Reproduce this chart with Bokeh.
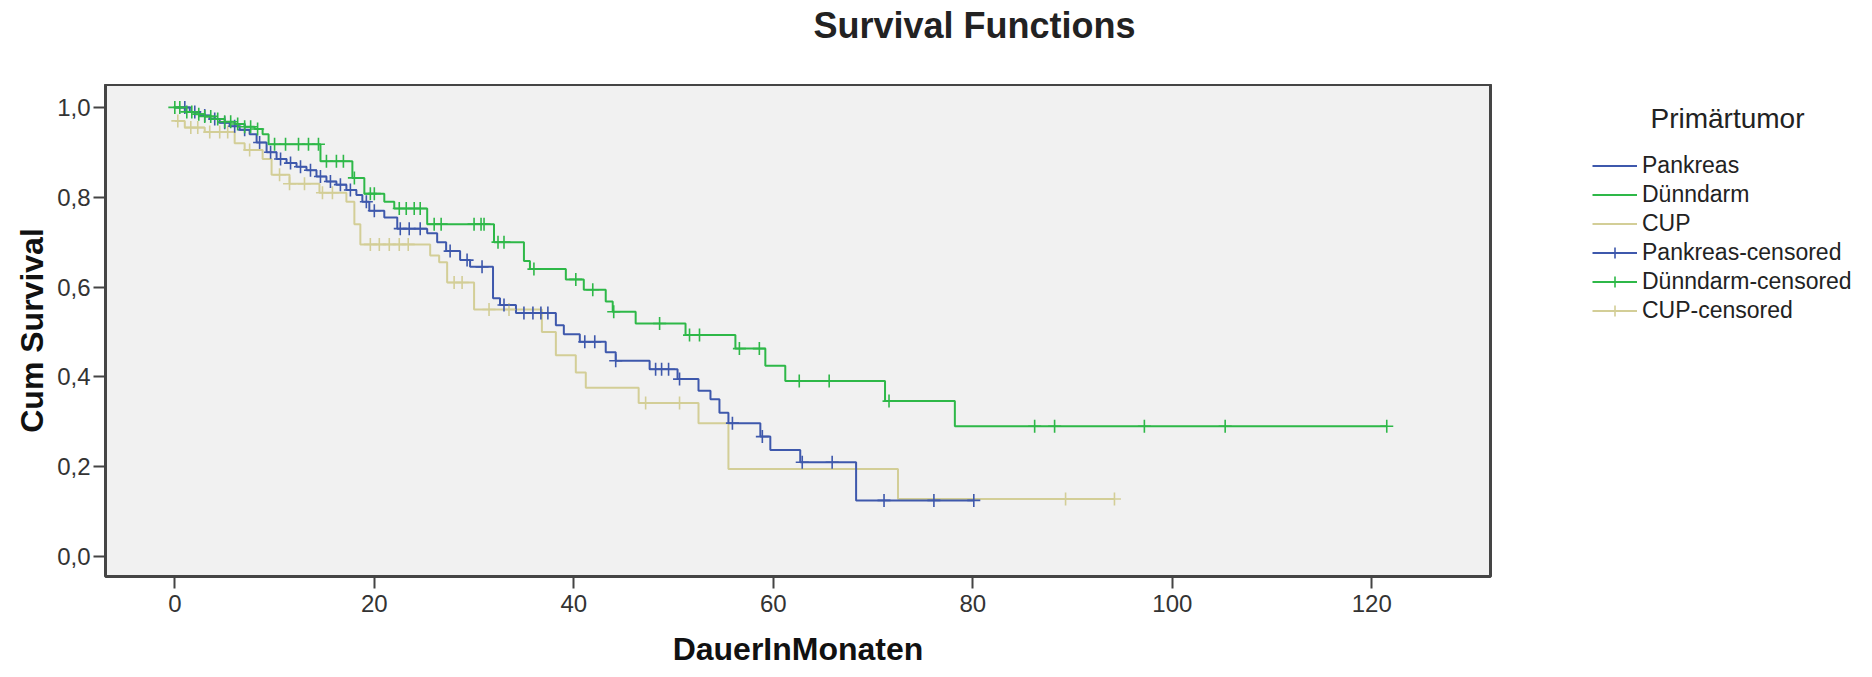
import numpy as np
from bokeh.plotting import figure
from bokeh.layouts import row, column
from bokeh.models import Range1d, FixedTicker, Legend, LegendItem, Label
from bokeh.embed import file_html
from bokeh.resources import INLINE

# ---------------- data ----------------
groups = ["Pankreas", "Dünndarm", "CUP"]
colors = ["#3E58AC", "#2EB848", "#D3CE97"]

# Kaplan-Meier step points (time in months, cumulative survival after the step)
pank_t = [0, 1.5, 2.5, 3.5, 4.5, 5.5, 6.5, 7.5, 8.2, 9.2, 10.2, 11.2, 12.2, 13.2, 14.2,
          15.2, 16.2, 17.2, 18.2, 18.8, 19.5, 21, 22.3, 25.3, 26.3, 27.2, 28.6, 29.6,
          31.9, 32.6, 34.2, 38.2, 39, 40.6, 43.2, 44.2, 47.6, 50.4, 52.5, 53.7, 54.6,
          55.5, 58.7, 59.7, 62.7, 68.3, 80.1]
pank_s = [1.0, 0.99, 0.982, 0.974, 0.966, 0.958, 0.95, 0.94, 0.922, 0.90, 0.885, 0.876,
          0.868, 0.86, 0.846, 0.835, 0.828, 0.816, 0.805, 0.79, 0.77, 0.755, 0.73, 0.72,
          0.70, 0.68, 0.66, 0.645, 0.575, 0.56, 0.542, 0.515, 0.495, 0.478, 0.455, 0.436,
          0.417, 0.395, 0.369, 0.35, 0.32, 0.297, 0.267, 0.237, 0.21, 0.125, 0.125]
pank_c = [1, 2, 3, 4, 5, 6, 7, 8.5, 9.6, 10.6, 11.6, 12.6, 13.6, 14.6, 15.6, 16.6, 17.6,
          19.2, 20, 22.6, 23.5, 24.6, 27.6, 29.3, 30.8, 33, 35, 35.9, 36.7, 37.4, 41.1,
          42.1, 44.2, 48.2, 48.8, 49.5, 50.6, 55.9, 58.9, 62.9, 65.9, 71.1, 76.1, 80.1]

duen_t = [0, 1, 2, 3, 4, 5, 6, 7, 8, 8.8, 9.4, 14.6, 17.8, 19, 21, 22, 25.3, 32, 35,
          35.6, 39.2, 41.0, 43.2, 43.9, 46.2, 51.2, 56.2, 59.2, 61.2, 71.2, 78.2, 121.5]
duen_s = [1.0, 0.99, 0.985, 0.98, 0.974, 0.968, 0.963, 0.957, 0.952, 0.94, 0.918, 0.88,
          0.843, 0.808, 0.79, 0.775, 0.74, 0.70, 0.658, 0.64, 0.617, 0.594, 0.568, 0.545,
          0.519, 0.493, 0.463, 0.425, 0.391, 0.346, 0.29, 0.29]
duen_c = [0, 0.5, 1.2, 1.7, 2.4, 3.0, 3.6, 4.3, 5, 5.6, 6.3, 7, 7.6, 8.3, 10, 11.1, 12.4,
          13.4, 14.4, 15.2, 16.2, 16.9, 18, 19.6, 20, 22.5, 23.2, 24, 24.6, 26, 26.7, 30,
          30.7, 31, 32.4, 33, 36, 40.2, 41.9, 44, 48.6, 51.6, 52.6, 56.6, 58.6, 62.6, 65.6,
          71.6, 86.2, 88.2, 97.2, 105.3, 121.5]

cup_t = [0, 1, 3, 6, 7, 8.8, 9.7, 11.5, 14.5, 17.2, 18, 18.6, 25.6, 26.5, 27.3, 30, 36.8,
         38.2, 40.2, 41.2, 46.5, 52.5, 55.5, 72.5, 94.2]
cup_s = [0.97, 0.955, 0.945, 0.92, 0.905, 0.885, 0.85, 0.83, 0.81, 0.79, 0.74, 0.695,
         0.67, 0.655, 0.61, 0.55, 0.50, 0.448, 0.41, 0.376, 0.342, 0.297, 0.195, 0.128,
         0.128]
cup_c = [0.3, 1.6, 2.3, 3.5, 4.5, 5.3, 7.5, 10.5, 11.5, 13, 14.8, 15.8, 19.6, 20.5, 21.5,
         22.5, 23.4, 28, 28.8, 31.5, 33.5, 47.2, 50.6, 89.3, 94.2]

x_ticks = [0, 20, 40, 60, 80, 100, 120]
y_ticks = [0.0, 0.2, 0.4, 0.6, 0.8, 1.0]
y_tick_labels = ["0,0", "0,2", "0,4", "0,6", "0,8", "1,0"]

title_text = "Survival Functions"
x_label = "DauerInMonaten"
y_label = "Cum Survival"
legend_title = "Primärtumor"

# ---------------- geometry ----------------
FONT = "Liberation Sans"
TOP_H = 84                    # height of the title strip (= frame top on the page)
H = 591                       # height of the plot row
W1, W2 = 1500, 356
BL, BR, BT, BB = 105, 10, 0, 99   # borders around the main frame

# ---------------- title strip ----------------
tfig = figure(width=W1, height=TOP_H, output_backend="svg", toolbar_location=None,
              x_range=Range1d(0, 1), y_range=Range1d(0, 1),
              x_axis_type=None, y_axis_type=None,
              min_border_left=BL, min_border_right=BR, min_border_top=0, min_border_bottom=0)
tfig.outline_line_color = None
tfig.background_fill_color = "white"
tfig.border_fill_color = "white"
tfig.grid.visible = False
tfig.add_layout(Label(x=974 - BL, y=TOP_H - 25, x_units="screen", y_units="screen",
                      text=title_text, text_font=FONT, text_font_size="36px",
                      text_font_style="bold", text_color="#222222",
                      text_align="center", text_baseline="middle"))

# ---------------- main figure ----------------
p = figure(width=W1, height=H, output_backend="svg", toolbar_location=None,
           x_range=Range1d(-6.95, 131.9), y_range=Range1d(-0.0445, 1.051),
           min_border_left=BL, min_border_right=BR,
           min_border_top=BT, min_border_bottom=BB)

p.background_fill_color = "#F1F1F1"
p.border_fill_color = "white"
p.outline_line_color = "#454545"
p.outline_line_width = 3
p.grid.visible = False

for ax in (p.xaxis, p.yaxis):
    ax.axis_line_color = None
    ax.major_tick_in = 0
    ax.major_tick_out = 12
    ax.major_tick_line_color = "#444444"
    ax.major_tick_line_width = 2
    ax.minor_tick_line_color = None
    ax.major_label_text_font = FONT
    ax.major_label_text_font_size = "24px"
    ax.major_label_text_color = "#333333"
    ax.axis_label_text_font = FONT
    ax.axis_label_text_font_style = "bold"
    ax.axis_label_text_font_size = "32px"
    ax.axis_label_text_color = "#111111"

p.xaxis.ticker = FixedTicker(ticks=x_ticks)
p.yaxis.ticker = FixedTicker(ticks=y_ticks)
p.yaxis.major_label_overrides = dict(zip(y_ticks, y_tick_labels))
p.xaxis.axis_label = x_label
p.yaxis.axis_label = y_label
p.xaxis.major_label_standoff = 6
p.yaxis.major_label_standoff = 3
p.xaxis.axis_label_standoff = 16
p.yaxis.axis_label_standoff = 4


def censor_y(t, s, c):
    t = np.asarray(t)
    s = np.asarray(s)
    idx = np.searchsorted(t, np.asarray(c), side="right") - 1
    return s[np.clip(idx, 0, len(s) - 1)]


series = {
    "Pankreas": (pank_t, pank_s, pank_c),
    "Dünndarm": (duen_t, duen_s, duen_c),
    "CUP": (cup_t, cup_s, cup_c),
}

draw_order = ["CUP", "Pankreas", "Dünndarm"]
for name in draw_order:
    col = colors[groups.index(name)]
    t, s, c = series[name]
    p.step(x=t, y=s, mode="after", line_color=col, line_width=2)
for name in draw_order:
    col = colors[groups.index(name)]
    t, s, c = series[name]
    p.scatter(x=c, y=censor_y(t, s, c), marker="cross", size=13,
              line_color=col, line_width=1.6)

# ---------------- legend panel (separate figure to the right) ----------------
q = figure(width=W2, height=H, output_backend="svg", toolbar_location=None,
           x_range=Range1d(0, 1), y_range=Range1d(0, 1),
           x_axis_type=None, y_axis_type=None,
           min_border_left=0, min_border_right=0, min_border_top=BT, min_border_bottom=BB)
q.outline_line_color = None
q.background_fill_color = "white"
q.border_fill_color = "white"
q.grid.visible = False

leg_step = {}
leg_cens = {}
for name in groups:
    col = colors[groups.index(name)]
    t, s, c = series[name]
    leg_step[name] = q.step(x=t, y=s, mode="after", line_color=col, line_width=2,
                            visible=False)
    leg_cens[name] = q.scatter(x=c, y=censor_y(t, s, c), marker="cross", size=13,
                               line_color=col, line_width=1.6, visible=False)

items = [LegendItem(label=g, renderers=[leg_step[g]]) for g in groups]
items += [LegendItem(label=g + "-censored", renderers=[leg_step[g], leg_cens[g]])
          for g in groups]

frame_bottom = TOP_H + H - BB      # page y of the frame bottom (576)
legend = Legend(items=items, location=(92, frame_bottom - 324),
                label_text_font=FONT, label_text_font_size="23px",
                label_text_color="#222222",
                glyph_width=45, glyph_height=27, spacing=2, label_standoff=5,
                padding=0, margin=0, border_line_color=None,
                background_fill_alpha=0, inactive_fill_alpha=0)
q.add_layout(legend, "center")

q.add_layout(Label(x=150, y=frame_bottom - 118, x_units="screen", y_units="screen",
                   text=legend_title, text_font=FONT, text_font_size="28px",
                   text_color="#222222", text_align="left", text_baseline="middle"))

layout = column(tfig, row(p, q))
open("out.html", "w").write(file_html(layout, INLINE))
